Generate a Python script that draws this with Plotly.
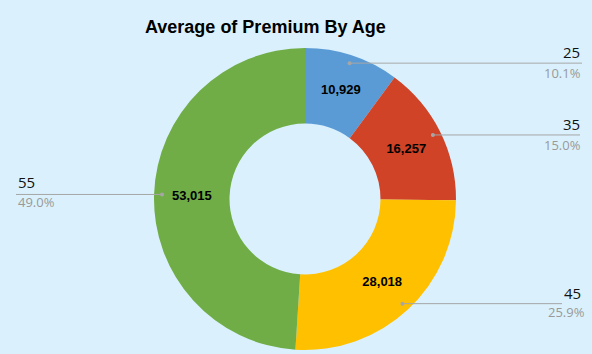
import math
import plotly.graph_objects as go

ages = ["25", "35", "45", "55"]
premiums = [10929, 16257, 28018, 53015]
colors = ["#5B9BD5", "#D04327", "#FFC000", "#70AD47"]

W, H = 592, 354
BG = "#DAF1FD"
cx, cy, R = 305, 199, 151
dom_x = [(cx - R) / W, (cx + R) / W]
dom_y = [1 - (cy + R) / H, 1 - (cy - R) / H]

def px(x):
    return x / W

def py(y):
    return 1 - y / H

fig = go.Figure(go.Pie(
    labels=ages, values=premiums, sort=False, direction="clockwise", rotation=0,
    hole=0.5, marker=dict(colors=colors, line=dict(width=0)),
    textinfo="value", texttemplate="%{value:,}", textposition="inside",
    insidetextorientation="horizontal",
    textfont=dict(family="Liberation Sans", size=13, color="black", weight="bold"),
    domain=dict(x=dom_x, y=dom_y), showlegend=False, hoverinfo="label+value+percent",
))

total = sum(premiums)
# label layout: (line end x, label x, anchor, name y, pct y, pct x)
layout_spec = {
    "25": dict(end=582, side="right", ny=52, py_=73, nx=582, px_=583),
    "35": dict(end=580, side="right", ny=124, py_=145, nx=582, px_=583),
    "45": dict(end=562, side="right", ny=293, py_=312, nx=583, px_=587),
    "55": dict(end=16, side="left", ny=182, py_=202, nx=16, px_=16),
}
shapes = []
annotations = []
cum = 0
r_dot = 143
for age, v in zip(ages, premiums):
    mid = (cum + v / 2) / total * 2 * math.pi
    cum += v
    dx = cx + r_dot * math.sin(mid)
    dy = cy - r_dot * math.cos(mid)
    spec = layout_spec[age]
    shapes.append(dict(type="line", xref="paper", yref="paper",
                       x0=px(dx), y0=py(dy), x1=px(spec["end"]), y1=py(dy),
                       line=dict(color="#A6A6A6", width=1)))
    shapes.append(dict(type="circle", xref="paper", yref="paper",
                       x0=px(dx - 2), x1=px(dx + 2), y0=py(dy + 2), y1=py(dy - 2),
                       fillcolor="#A6A6A6", line=dict(width=0)))
    anchor = "right" if spec["side"] == "right" else "left"
    annotations.append(dict(text=age, x=px(spec["nx"]), y=py(spec["ny"]),
                            xref="paper", yref="paper", xanchor=anchor, yanchor="middle",
                            showarrow=False,
                            font=dict(family="Open Sans", size=15, color="#111111")))
    annotations.append(dict(text=f"{v / total * 100:.1f}%", x=px(spec["px_"]), y=py(spec["py_"]),
                            xref="paper", yref="paper", xanchor=anchor, yanchor="middle",
                            showarrow=False,
                            font=dict(family="Open Sans", size=13, color="#999999")))

annotations.append(dict(text="<b>Average of Premium By Age</b>", x=px(265), y=py(27),
                        xref="paper", yref="paper", xanchor="center", yanchor="middle",
                        showarrow=False,
                        font=dict(family="Liberation Sans", size=18, color="black")))

fig.update_layout(
    width=W, height=H, margin=dict(l=0, r=0, t=0, b=0),
    paper_bgcolor=BG, plot_bgcolor=BG,
    shapes=shapes, annotations=annotations,
)
fig.write_html("out.html")
